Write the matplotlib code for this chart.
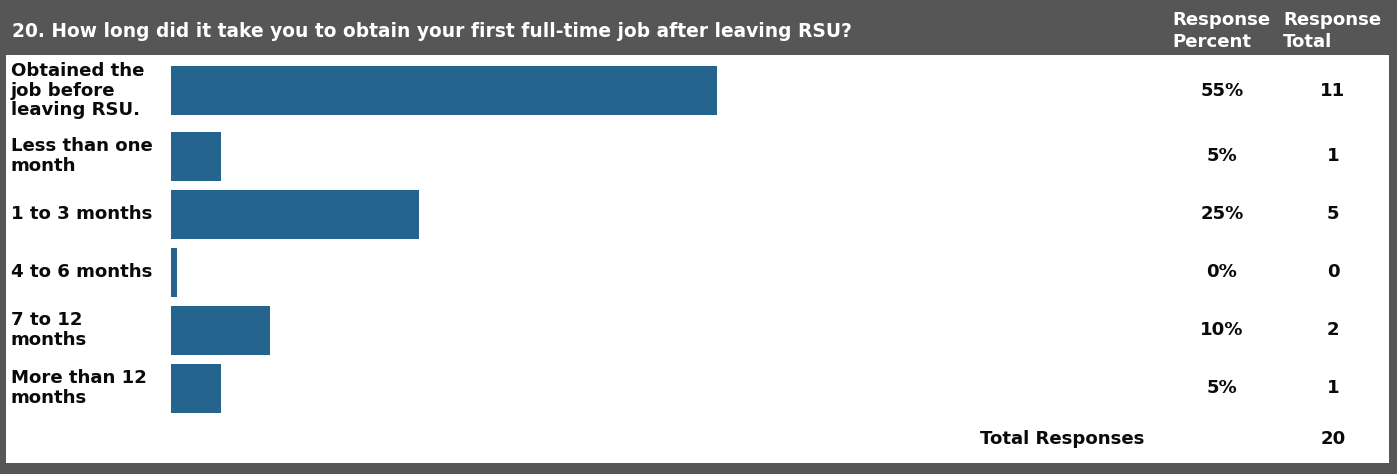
import matplotlib
matplotlib.use("Agg")
import matplotlib.pyplot as plt
from matplotlib.patches import Rectangle

# ---- data ----
title = "20. How long did it take you to obtain your first full-time job after leaving RSU?"
categories = ["Obtained the\njob before\nleaving RSU.", "Less than one\nmonth", "1 to 3 months",
              "4 to 6 months", "7 to 12\nmonths", "More than 12\nmonths"]
percents = [55, 5, 25, 0, 10, 5]
totals = [11, 1, 5, 0, 2, 1]
total_responses = 20
col_headers = ["Response\nPercent", "Response\nTotal"]

W, H = 1397, 474
BG = "#565656"
BAR = "#266490"
FS = 13.1
TFS = 13.4
FONT = ["DejaVu Sans"]
INK = "#0a0a0a"

fig = plt.figure(figsize=(W / 100, H / 100), dpi=100)
fig.patch.set_facecolor(BG)

# overlay axes in pixel coordinates
ov = fig.add_axes([0, 0, 1, 1])
ov.set_xlim(0, W)
ov.set_ylim(H, 0)
ov.axis("off")
ov.add_patch(Rectangle((6, 55), 1383, 408, facecolor="white", edgecolor="none", zorder=0))

# row layout
line_h = 20
bar_h = 49
gap = 9
top = 54
centers = []
y = top
for c in categories:
    n = c.count("\n") + 1
    rh = max(bar_h, n * line_h + 4) + gap
    centers.append(y + rh / 2)
    y += rh
total_center = y + 22.5

# bar axes: x data in percent, y in pixels
x0, x100 = 171, 1164
bx = fig.add_axes([x0 / W, 0, (x100 - x0) / W, 1])
bx.set_xlim(0, 100)
bx.set_ylim(H, 0)
bx.axis("off")
bx.patch.set_alpha(0)
stub = 0.6
bx.barh(centers, [max(p, stub) for p in percents], height=bar_h, color=BAR, align="center")

# header texts
ov.text(12, 31, title, color="white", fontsize=TFS, fontweight="bold", family=FONT,
        va="center", ha="left")
ov.text(1172, 31, col_headers[0], color="white", fontsize=FS, fontweight="bold", family=FONT,
        va="center", ha="left", linespacing=1.32)
ov.text(1283, 31, col_headers[1], color="white", fontsize=FS, fontweight="bold", family=FONT,
        va="center", ha="left", linespacing=1.32)

for c, yc, p, t in zip(categories, centers, percents, totals):
    ov.text(11, yc, c, color=INK, fontsize=FS, fontweight="bold", family=FONT,
            va="center", ha="left", linespacing=1.14)
    ov.text(1222, yc, f"{p}%", color=INK, fontsize=FS, fontweight="bold", family=FONT,
            va="center", ha="center")
    ov.text(1333, yc, f"{t}", color=INK, fontsize=FS, fontweight="bold", family=FONT,
            va="center", ha="center")

ov.text(980, total_center, "Total Responses", color=INK, fontsize=FS, fontweight="bold",
        family=FONT, va="center", ha="left")
ov.text(1333, total_center, f"{total_responses}", color=INK, fontsize=FS, fontweight="bold",
        family=FONT, va="center", ha="center")

fig.savefig("out.png", dpi=100, facecolor=BG)
